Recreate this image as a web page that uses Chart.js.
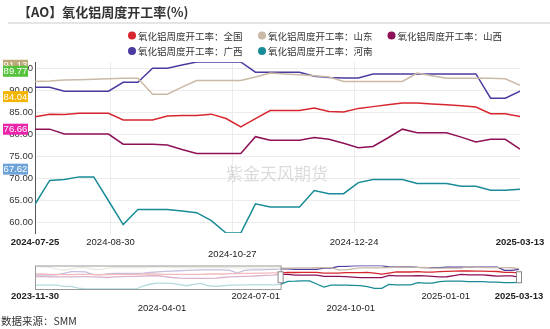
<!DOCTYPE html>
<html>
<head>
<meta charset="utf-8">
<script src="https://cdn.jsdelivr.net/npm/chart.js@4.4.1/dist/chart.umd.min.js"></script>
<style>
html, body { margin: 0; padding: 0; background: #fff; }
.wrap { position: relative; width: 550px; height: 329px; overflow: hidden; }
#main { position: absolute; left: 0; top: 0; }
#slider { position: absolute; left: 0; top: 262px; }
</style>
</head>
<body>
<div class="wrap">
	<canvas id="main" width="550" height="329"></canvas>
	<canvas id="slider" width="550" height="67"></canvas>
</div>
<script>
"use strict"

const FONT = '"Liberation Sans", Arial, sans-serif';
const CJK = '"Noto Sans CJK SC", sans-serif';

// недельные даты основного графика
const dates = [
	'2024-07-25', '2024-08-01', '2024-08-08', '2024-08-15', '2024-08-22', '2024-08-29',
	'2024-09-05', '2024-09-12', '2024-09-19', '2024-09-26', '2024-10-03', '2024-10-10',
	'2024-10-17', '2024-10-24', '2024-10-31', '2024-11-07', '2024-11-14', '2024-11-21',
	'2024-11-28', '2024-12-05', '2024-12-12', '2024-12-19', '2024-12-26', '2025-01-02',
	'2025-01-09', '2025-01-16', '2025-01-23', '2025-01-30', '2025-02-06', '2025-02-13',
	'2025-02-20', '2025-02-27', '2025-03-06', '2025-03-13'
];
const quanguo = [84.0, 84.6, 84.5, 84.8, 84.8, 84.8, 83.3, 83.3, 83.3, 84.2, 84.3, 84.3, 84.6, 83.6, 81.7, 83.6, 85.4,
	85.4, 85.4, 86.0, 85.2, 85.1, 85.9, 86.3, 86.7, 87.1, 87.1, 86.9, 86.7, 86.5, 86.2, 84.7, 84.7, 84.04];
const shandong = [92.0, 92.1, 92.3, 92.4, 92.5, 92.6, 92.7, 92.7, 89.1, 89.1, 90.7, 92.2, 92.2, 92.2, 92.2, 93.0, 93.9,
	93.7, 93.5, 93.3, 93.0, 92.0, 92.0, 92.0, 92.0, 92.0, 93.9, 93.3, 92.7, 92.7, 92.7, 92.7, 92.6, 91.13];
const shanxi = [81.2, 81.2, 80.1, 80.1, 80.1, 80.1, 77.8, 77.8, 77.8, 77.6, 76.6, 75.7, 75.7, 75.7, 75.7, 79.5, 78.7,
	78.7, 78.7, 79.3, 78.9, 78.0, 77.0, 77.3, 79.2, 81.2, 80.4, 80.4, 80.4, 79.4, 78.3, 78.9, 78.9, 76.66];
const guangxi = [90.7, 90.7, 89.8, 89.8, 89.8, 89.8, 91.8, 91.8, 95.0, 95.0, 95.7, 96.4, 96.4, 96.4, 96.4, 94.1, 94.1,
	94.1, 94.1, 93.2, 92.9, 92.8, 92.8, 93.7, 93.7, 93.7, 93.7, 93.7, 93.7, 93.7, 93.7, 88.2, 88.2, 89.77];
const henan = [64.2, 69.6, 69.8, 70.4, 70.4, 65.0, 59.6, 63.0, 63.0, 63.0, 62.7, 62.3, 60.5, 57.7, 57.7, 64.3, 63.6,
	63.6, 63.6, 67.3, 66.6, 66.6, 69.1, 69.8, 69.8, 69.8, 68.9, 68.9, 68.9, 68.3, 68.3, 67.4, 67.4, 67.62];

// более ранние недели, видны только в ползунке
const earlyDates = [
	'2023-11-30', '2023-12-07', '2023-12-14', '2023-12-21', '2023-12-28', '2024-01-04',
	'2024-01-11', '2024-01-18', '2024-01-25', '2024-02-01', '2024-02-08', '2024-02-15',
	'2024-02-22', '2024-02-29', '2024-03-07', '2024-03-14', '2024-03-21', '2024-03-28',
	'2024-04-04', '2024-04-11', '2024-04-18', '2024-04-25', '2024-05-02', '2024-05-09',
	'2024-05-16', '2024-05-23', '2024-05-30', '2024-06-06', '2024-06-13', '2024-06-20',
	'2024-06-27', '2024-07-04', '2024-07-11', '2024-07-18'
];
const quanguoEarly = [82, 82, 81.5, 81.5, 81, 81, 81.5, 81.5, 81.5, 81, 81, 81.5, 81.5, 81.5, 81.5, 82, 82,
	81.7, 81.5, 81.5, 81.5, 81.5, 81.5, 81.5, 82, 82, 82, 82.5, 82.5, 83, 83, 83.5, 83.5, 84];
const shandongEarly = [94.5, 94.5, 93.5, 90.5, 88, 90.5, 93, 93, 90, 89.5, 92, 93, 93, 93, 93, 93, 93.5,
	93.5, 93.5, 93, 93, 93, 93, 93, 93, 93, 93, 92.5, 92.5, 92.5, 92, 92, 92, 92];
const shanxiEarly = [77.5, 77.5, 77, 77, 77, 77, 77.5, 77.5, 77, 76.5, 76, 77, 77.5, 78, 78, 78.5, 79,
	79, 77.5, 76, 75, 74.5, 74.5, 74.5, 74.5, 75, 76, 77, 77.5, 78, 78.5, 79, 79.5, 80];
const guangxiEarly = [80, 80, 80, 80.5, 83, 86, 86, 85.5, 81, 80.5, 82, 83, 83, 83, 83, 83.5, 84.5,
	85.5, 86.5, 87, 87.5, 88, 88.5, 89, 89, 89, 89, 88, 83.5, 88, 89, 89, 89.5, 90];
const henanEarly = [63, 63, 63, 63, 61, 61, 58, 56.5, 56.5, 56.5, 56.5, 56.5, 56.5, 56.5, 56.5, 62, 65,
	66.5, 66.5, 66, 64, 62, 64.5, 66, 62, 61, 62, 63, 63, 63.5, 63.5, 63.5, 63.5, 63.5];

const seriesNames = ['氧化铝周度开工率：全国', '氧化铝周度开工率：山东', '氧化铝周度开工率：山西',
	'氧化铝周度开工率：广西', '氧化铝周度开工率：河南'];
const xTicks = ['2024-07-25', '2024-08-30', '2024-10-27', '2024-12-24', '2025-03-13'];
const yTicks = [60, 65, 70, 75, 80, 85, 90, 95];
const sliderTicks = ['2023-11-30', '2024-04-01', '2024-07-01', '2024-10-01', '2025-01-01', '2025-03-13'];

const colors = ['#d8262f', '#c9b9a6', '#8e1157', '#4b3ba0', '#188c96'];
const tagColors = ['#f4b400', '#bba977', '#ea23ab', '#55c43c', '#6ea3da'];
const mainSeries = [quanguo, shandong, shanxi, guangxi, henan];
const earlySeries = [quanguoEarly, shandongEarly, shanxiEarly, guangxiEarly, henanEarly];

function dayNum(s) {
	const p = s.split('-').map(Number);
	return Date.UTC(p[0], p[1] - 1, p[2]) / 86400000;
}

const base = dayNum(dates[0]);
const sBase = dayNum(earlyDates[0]);
const allMain = [].concat(...mainSeries);

// верх: заголовок, легенда, водяной знак, подписи последних значений
const chrome = {
	id: 'chrome',
	beforeDraw(chart) {
		const c = chart.ctx;
		c.save();
		c.fillStyle = '#333';
		c.font = 'bold 13px ' + CJK;
		c.textBaseline = 'middle';
		c.fillText('【AO】氧化铝周度开工率(%)', 18, 12.5);
		c.strokeStyle = '#dcdcdc';
		c.lineWidth = 1.5;
		c.beginPath();
		c.moveTo(8, 23);
		c.lineTo(550, 23);
		c.stroke();

		const spots = [[132, 35.5], [262, 35.5], [391.5, 35.5], [132, 51], [262, 51]];
		c.font = '9.5px ' + CJK;
		chart.data.datasets.forEach((ds, i) => {
			const [x, y] = spots[i];
			c.fillStyle = ds.borderColor;
			c.beginPath();
			c.arc(x, y, 4, 0, Math.PI * 2);
			c.fill();
			c.fillStyle = '#333';
			c.fillText(ds.label, x + 6, y + 0.5);
		});

		c.font = '10.5px ' + CJK;
		c.fillStyle = '#333';
		c.fillText('数据来源：SMM', 1, 321);
		c.restore();
	},
	beforeDatasetsDraw(chart) {
		const c = chart.ctx;
		c.save();
		c.font = '17px ' + CJK;
		c.fillStyle = 'rgba(0,0,0,0.14)';
		c.textAlign = 'center';
		c.textBaseline = 'middle';
		c.fillText('紫金天风期货', 277, 174);
		c.restore();
	},
	afterDraw(chart) {
		const c = chart.ctx;
		const ys = chart.scales.y;
		c.save();
		c.font = '9.5px ' + FONT;
		c.textAlign = 'center';
		c.textBaseline = 'middle';
		// порядок отрисовки: сверху вниз
		[1, 3, 0, 2, 4].forEach(i => {
			const vals = mainSeries[i];
			const v = vals[vals.length - 1];
			const y = ys.getPixelForValue(v) - 20;
			c.fillStyle = tagColors[i];
			c.fillRect(3, y - 5.5, 25, 11);
			c.fillStyle = '#fff';
			c.fillText(v.toFixed(2), 15.5, y + 0.5);
		});
		c.restore();
	}
};

const mainChart = new Chart(
	document.getElementById('main'),
	{
		type: 'line',
		data: {
			datasets: mainSeries.map((vals, i) => ({
				label: seriesNames[i],
				data: dates.map((d, k) => ({ x: dayNum(d) - base, y: vals[k] })),
				borderColor: colors[i],
				backgroundColor: colors[i],
			}))
		},
		options: {
			responsive: false,
			animation: false,
			layout: { padding: { top: 62, right: 30, bottom: 0, left: 0 } },
			plugins: { legend: { display: false }, tooltip: { enabled: false } },
			elements: { point: { radius: 0 }, line: { borderWidth: 1.5, tension: 0 } },
			scales: {
				x: {
					type: 'linear',
					min: 0,
					max: dayNum(dates[dates.length - 1]) - base,
					afterBuildTicks: s => { s.ticks = xTicks.map(d => ({ value: dayNum(d) - base })); },
					afterFit: s => { s.height = 96; },
					border: { display: false },
					grid: {
						drawTicks: false,
						color: ctx => (ctx.index === 0 || ctx.index === xTicks.length - 1) ? 'rgba(0,0,0,0)' : '#ececec'
					},
					ticks: {
						autoSkip: false,
						maxRotation: 0,
						padding: 4,
						color: '#222',
						font: ctx => ({
							family: FONT, size: 9.5,
							weight: (ctx.index === 0 || ctx.index === xTicks.length - 1) ? 'bold' : 'normal'
						}),
						callback: (v, i) => i === 2 ? ['', xTicks[i]] : xTicks[i]
					}
				},
				y: {
					min: Math.min(...allMain),
					max: Math.max(...allMain),
					afterBuildTicks: s => { s.ticks = yTicks.map(v => ({ value: v })); },
					afterFit: s => { s.width = 35; },
					border: { display: true, color: '#555', width: 1 },
					grid: { drawTicks: false, color: '#ececec' },
					ticks: {
						padding: 2,
						color: '#333',
						font: { family: FONT, size: 9.5 },
						callback: v => v.toFixed(2)
					}
				}
			}
		},
		plugins: [chrome]
	}
);

// ползунок dataZoom
const sliderShade = {
	id: 'sliderShade',
	afterDatasetsDraw(chart) {
		const c = chart.ctx;
		const a = chart.chartArea;
		const xs = chart.scales.x;
		const selStart = xs.getPixelForValue(dayNum(dates[0]) - sBase);
		const selEnd = xs.getPixelForValue(dayNum(dates[dates.length - 1]) - sBase);
		c.save();
		c.fillStyle = 'rgba(255,255,255,0.68)';
		c.fillRect(a.left, a.top, selStart - a.left, a.bottom - a.top);
		c.strokeStyle = '#9a9a9a';
		c.lineWidth = 1;
		c.strokeRect(a.left + 0.5, a.top + 0.5, selStart - a.left, a.bottom - a.top);
		const mid = (a.top + a.bottom) / 2;
		[selStart, selEnd].forEach(x => {
			c.fillStyle = '#fff';
			c.fillRect(x - 2.5, mid - 5.5, 5, 11);
			c.strokeStyle = '#888';
			c.strokeRect(x - 2.5, mid - 5.5, 5, 11);
		});
		c.restore();
	}
};

const allDates = earlyDates.concat(dates);
const allSlider = [].concat(...earlySeries, ...mainSeries);

const sliderChart = new Chart(
	document.getElementById('slider'),
	{
		type: 'line',
		data: {
			datasets: mainSeries.map((vals, i) => {
				const full = earlySeries[i].concat(vals);
				return {
					label: seriesNames[i],
					data: allDates.map((d, k) => ({ x: dayNum(d) - sBase, y: full[k] })),
					borderColor: colors[i],
				};
			})
		},
		options: {
			responsive: false,
			animation: false,
			layout: { padding: { top: 3.5, right: 31, bottom: 0, left: 35 } },
			plugins: { legend: { display: false }, tooltip: { enabled: false } },
			elements: { point: { radius: 0 }, line: { borderWidth: 1.3, tension: 0 } },
			scales: {
				x: {
					type: 'linear',
					min: 0,
					max: dayNum(allDates[allDates.length - 1]) - sBase,
					afterBuildTicks: s => { s.ticks = sliderTicks.map(d => ({ value: dayNum(d) - sBase })); },
					afterFit: s => { s.height = 40; },
					border: { display: false },
					grid: { display: false, drawTicks: false },
					ticks: {
						autoSkip: false,
						maxRotation: 0,
						padding: 2,
						color: '#222',
						font: ctx => ({
							family: FONT, size: 9.5,
							weight: (ctx.index === 0 || ctx.index === sliderTicks.length - 1) ? 'bold' : 'normal'
						}),
						callback: (v, i) => (i === 1 || i === 3) ? ['', sliderTicks[i]] : sliderTicks[i]
					}
				},
				y: {
					display: false,
					min: Math.min(...allSlider),
					max: Math.max(...allSlider)
				}
			}
		},
		plugins: [sliderShade]
	}
);
</script>
</body>
</html>
